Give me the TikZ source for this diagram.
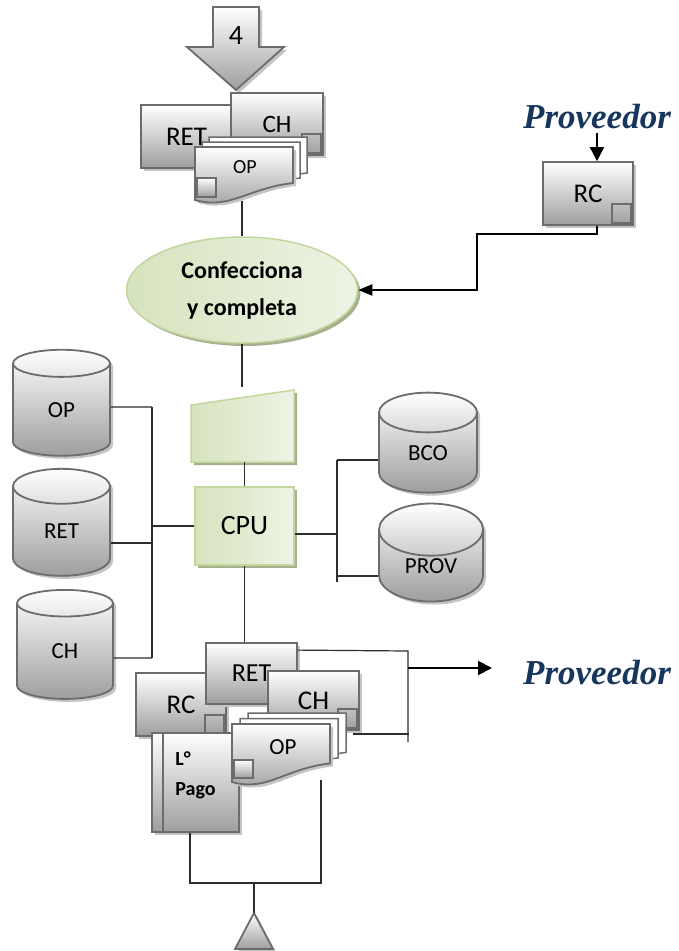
\documentclass[tikz,border=0pt]{standalone}
\usepackage{fontspec}
\setmainfont{Carlito}
\newfontfamily\provfont{Liberation Serif}
\usepackage{tikz}
\usetikzlibrary{arrows.meta, positioning, shapes.geometric, shadows}

\definecolor{boxline}{RGB}{108,108,108}
\definecolor{boxgray}{RGB}{158,158,158}
\definecolor{shadowgray}{RGB}{196,196,196}
\definecolor{glight}{RGB}{238,243,228}
\definecolor{gdark}{RGB}{214,227,190}
\definecolor{gline}{RGB}{195,214,158}
\definecolor{gshadow}{RGB}{165,176,142}
\definecolor{provblue}{RGB}{23,54,93}
\definecolor{wirecol}{RGB}{45,45,45}

% pagina con borde inferior ondulado: x, y (arriba izq.), alto
\newcommand{\docpage}[3]{(#1,#2) -- ++(98,0) -- ++(0,{0.68*#3}) .. controls +(-45,5) and +(35,10) .. (#1,{#2+#3}) -- cycle}

\begin{document}
\begin{tikzpicture}[x=1pt,y=-1pt,
    every node/.style={inner sep=0pt},
    gbox/.style={rectangle,draw=boxline,line width=1.8pt,top color=white,bottom color=boxgray,
      drop shadow={shadow xshift=3pt,shadow yshift=-3pt,fill=shadowgray,opacity=1},
      font=\fontsize{27}{30}\selectfont},
    tabsq/.style={draw=boxline,line width=1.5pt,top color=white,bottom color=boxgray},
    tabse/.style={path picture={\draw[tabsq] ([shift={(-21pt,21pt)}]path picture bounding box.south east) rectangle ([shift={(-2pt,2pt)}]path picture bounding box.south east);}},
    gdb/.style={cylinder,shape border rotate=90,aspect=1,draw=boxline,line width=1.8pt,
      top color=white,bottom color=boxgray,
      drop shadow={shadow xshift=3pt,shadow yshift=-3pt,fill=shadowgray,opacity=1},
      font=\fontsize{23}{26}\selectfont},
    gshape/.style={draw=gline,line width=1.5pt,left color=gdark,right color=glight,
      drop shadow={shadow xshift=3pt,shadow yshift=-3pt,fill=gshadow,opacity=1}},
    garrow/.style={draw=boxline,line width=1.8pt,top color=white,bottom color=boxgray,
      drop shadow={shadow xshift=3pt,shadow yshift=-3pt,fill=shadowgray,opacity=1}},
    docback/.style={draw=boxline,line width=1.5pt,fill=white},
    docfront/.style={draw=boxline,line width=1.8pt,top color=white,bottom color=boxgray,
      drop shadow={shadow xshift=3pt,shadow yshift=-3pt,fill=shadowgray,opacity=1}},
    provtext/.style={font=\provfont\bfseries\itshape\fontsize{35}{40}\selectfont,text=provblue},
    wire/.style={draw=wirecol,line width=1.2pt},
    bigarrow/.style={draw=black,line width=2pt,-{Triangle[length=14pt,width=14pt]}}]

  \useasboundingbox (0,0) rectangle (679,951);

  % entrada desde 4
  \draw[garrow] (213,7) -- (259,7) -- (259,47) -- (284,47) -- (236,90) -- (187,47) -- (213,47) -- cycle;
  \node[font=\fontsize{28}{30}\selectfont] (in_4) at (236,36) {4};

  % documentos recibidos
  \node[gbox,minimum width=91pt,minimum height=63pt] (ret_1) at (186.5,136.5) {RET};
  \node[gbox,tabse,minimum width=92pt,minimum height=62pt,font=\fontsize{25}{30}\selectfont] (ch_1) at (277,124) {CH};
  \foreach \k in {2,1}
    \draw[docback] \docpage{195+7*\k}{147-5*\k}{53};
  \draw[docfront] \docpage{195}{147}{53};
  \draw[tabsq] (197,178) rectangle (216,197);
  \node[font=\fontsize{20}{22}\selectfont] (op_1) at (245,167) {OP};
  \coordinate (op_1_bot) at (242,201);

  % proveedor y RC
  \node[provtext] (prov_1) at (597,117) {Proveedor};
  \node[gbox,tabse,minimum width=90pt,minimum height=63pt] (rc_1) at (588,193.5) {RC};
  \coordinate (rc_jog) at (477,234);

  % proceso
  \node[gshape,ellipse,minimum width=231pt,minimum height=106pt,align=center,
    font=\bfseries\fontsize{24}{37}\selectfont] (conf) at (242,290) {Confecciona\\y completa};
  \draw[gshape] (191,405) -- (294,390) -- (294,462) -- (191,462) -- cycle;
  \coordinate (mi_in) at (242,387);
  \coordinate (mi_out) at (244.5,462);
  \node[gshape,rectangle,minimum width=99pt,minimum height=78pt,font=\fontsize{28}{30}\selectfont] (cpu) at (244.5,526) {CPU};

  % archivos
  \node[gdb,minimum width=97pt,minimum height=106pt] (db_op) at (61.5,410) {OP};
  \node[gdb,minimum width=97pt,minimum height=107pt] (db_ret) at (61.5,531.5) {RET};
  \node[gdb,minimum width=96pt,minimum height=109pt] (db_ch) at (65,651.5) {CH};
  \node[gdb,minimum width=98pt,minimum height=100pt] (db_bco) at (428,453) {BCO};
  \node[gdb,minimum width=104pt,minimum height=98pt] (db_prov) at (431,566) {PROV};
  \coordinate (lbus_top) at (152,407);
  \coordinate (lbus_bot) at (152,658);
  \coordinate (rbus_top) at (337,460);
  \coordinate (rbus_bot) at (337,582);

  % documentos emitidos
  \node[gbox,tabse,minimum width=90pt,minimum height=63pt] (rc_2) at (181,704.5) {RC};
  \node[gbox,minimum width=91pt,minimum height=61pt,font=\fontsize{26}{30}\selectfont] (ret_2) at (251.5,673.5) {RET};
  \node[gbox,tabse,minimum width=91pt,minimum height=59pt] (ch_2) at (313.5,700.5) {CH};
  \node[gbox,minimum width=87pt,minimum height=99pt,align=left,text depth=18pt,
    font=\bfseries\fontsize{20}{30}\selectfont,
    path picture={\draw[draw=boxline,line width=1.5pt] ([xshift=11pt]path picture bounding box.north west) -- ([xshift=11pt]path picture bounding box.south west);}] (pago) at (195.5,782.5) {L°\\Pago};
  \foreach \k in {2,1}
    \draw[docback] \docpage{232+8*\k}{724-5.5*\k}{58};
  \draw[docfront] \docpage{232}{724}{58};
  \draw[tabsq] (234,760) rectangle (253,778);
  \node[font=\fontsize{23}{26}\selectfont] (op_2) at (283,747) {OP};
  \coordinate (op_2_bot) at (321,780);
  \coordinate (rbr_top) at (408,651);
  \coordinate (rbr_mid) at (408,668);
  \coordinate (rbr_bot) at (408,742);
  \node[provtext] (prov_2) at (597,673) {Proveedor};
  \coordinate (bot_bus) at (254,883);
  \coordinate (tri_top) at (254,913);
  \draw[garrow] (tri_top) -- (273,949) -- (235,949) -- cycle;

  % conexiones
  \draw[wire] (op_1_bot) -- (conf.north);
  \draw[bigarrow,shorten <=3pt] (prov_1.south) -- (prov_1.south |- rc_1.north);
  \draw[bigarrow,-{Triangle[length=14pt,width=11pt]}] ([xshift=9pt]rc_1.south) |- (rc_jog) |- (conf.east);
  \draw[wire] (conf.south) -- (mi_in);
  \draw[wire] (mi_out) -- (cpu.north);
  \draw[wire] (lbus_top) -- (lbus_bot);
  \draw[wire] ([yshift=3pt]db_op.east) -- (lbus_top);
  \draw[wire] ([yshift=-11.5pt]db_ret.east) -- ++(42,0);
  \draw[wire] ([yshift=-6.5pt]db_ch.east) -- (lbus_bot);
  \draw[wire] (cpu.west) -- ++(-43,0);
  \draw[wire] (rbus_top) -- (rbus_bot);
  \draw[wire] (rbus_top) -- (rbus_top -| db_bco.west);
  \draw[wire] ([yshift=-10pt]db_prov.west) -- ++(-42,0);
  \draw[wire] ([yshift=-8pt]cpu.east) -- ++(42.5,0);
  \draw[wire] (cpu.south) -- (cpu.south |- ret_2.north);
  \draw[wire] ([yshift=-8pt]ret_2.north east) -- (rbr_top) -- (rbr_bot);
  \draw[wire] ([xshift=-7pt,yshift=-3pt]ch_2.south east) -- ++(56,0);
  \draw[bigarrow] (rbr_mid) -- ++(84,0);
  \draw[wire] ([xshift=-5.5pt]pago.south) |- (bot_bus) -| (op_2_bot);
  \draw[wire] (bot_bus) -- (tri_top);
\end{tikzpicture}
\end{document}
